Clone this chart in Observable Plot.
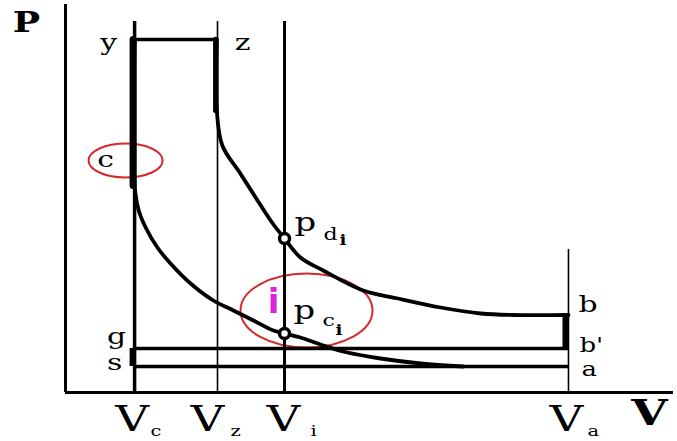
<!DOCTYPE html>
<html>
<head>
<meta charset="utf-8">
<script src="https://cdn.jsdelivr.net/npm/d3@7"></script>
<script src="https://cdn.jsdelivr.net/npm/@observablehq/plot@0.6"></script>
<style>
  body { margin: 0; background: #fff; }
  #chart svg { display: block; }
</style>
</head>
<body>
<div id="chart"></div>
<script>
// Characteristic volumes of the cycle (relative units): Vc, Vz, Vi, Va
const volumeNames = ["c", "z", "i", "a"];
const volumes = [1.0, 2.2, 3.17, 7.28];

// Named state points of the cycle: volume and pressure (relative units)
const pointNames = ["y", "z", "c", "b", "b'", "g", "s", "a"];
const pointV = [1.0, 2.2, 1.0, 7.28, 7.28, 1.0, 1.0, 7.28];
const pointP = [35.3, 35.3, 23.2, 7.75, 4.4, 4.4, 2.6, 2.6];

// Expansion line z -> b
const expansionV = [2.19, 2.19, 2.27, 2.53, 2.78, 3.00, 3.17, 3.40, 3.73, 4.31, 4.81, 5.43, 6.01, 6.48, 7.28];
const expansionP = [35.3, 28.2, 24.7, 21.9, 19.2, 16.9, 15.4, 13.5, 12.2, 10.2, 9.4, 8.5, 7.9, 7.75, 7.75];

// Compression line, listed from y down through c to a
const compressionV = [1.0, 1.0, 1.06, 1.16, 1.33, 1.52, 1.81, 2.14, 2.43, 2.72, 3.01, 3.17, 3.40, 3.73, 4.08, 4.56, 5.14, 5.76];
const compressionP = [35.3, 20.7, 18.2, 16.5, 14.5, 12.9, 10.9, 9.2, 8.2, 7.2, 6.2, 5.9, 5.5, 4.7, 4.0, 3.4, 2.9, 2.6];

// Pressures read at the intermediate volume Vi
const indicatorV = 3.17;
const pdi = 15.4;   // on the expansion line
const pci = 5.9;    // on the compression line

// Extents of the axes and of the volume ordinates
const vMax = 8.8, pMax = 38.8;
const ordinateTop = 37.1, ordinateTopVa = 14.3;

const pt = Object.fromEntries(pointNames.map((n, i) => [n, {V: pointV[i], P: pointP[i]}]));
const vol = Object.fromEntries(volumeNames.map((n, i) => [n, volumes[i]]));
const expansion = expansionV.map((V, i) => ({V, P: expansionP[i]}));
const compression = compressionV.map((V, i) => ({V, P: compressionP[i]}));

const serif = "DejaVu Serif";
const red = "#d42a2a";

// Outline ellipse drawn as a custom dot symbol (r gives the vertical radius)
function ellipseSymbol(aspect) {
  return {
    draw(context, size) {
      const ry = Math.sqrt(size / Math.PI), rx = ry * aspect, k = 0.5523;
      context.moveTo(rx, 0);
      context.bezierCurveTo(rx, k * ry, k * rx, ry, 0, ry);
      context.bezierCurveTo(-k * rx, ry, -rx, k * ry, -rx, 0);
      context.bezierCurveTo(-rx, -k * ry, -k * rx, -ry, 0, -ry);
      context.bezierCurveTo(k * rx, -ry, rx, -k * ry, rx, 0);
      context.closePath();
    }
  };
}

// Letter labels; the "wide" class gets a horizontal stretch after rendering
function label(text, V, P, dx, dy, opts = {}) {
  return Plot.text([{V, P}], {
    x: "V", y: "P", text: () => text, dx, dy,
    fontFamily: serif, fontSize: 23, fill: "black",
    textAnchor: "middle", lineAnchor: "middle", className: "wide", ...opts
  });
}

// Horizontal nudges of the V tick labels: [V glyph centre, subscript start]
const tickNudge = {c: [-2.5, 16], z: [-10, 13], i: [-1, 26], a: [-2, 19]};

const tickLabels = volumeNames.flatMap((n) => [
  label("V", vol[n], 0, tickNudge[n][0], 26.5, {fontSize: 36}),
  label(n, vol[n], 0, tickNudge[n][1], 38.5, {fontSize: 15, textAnchor: "start"})
]);

const chart = Plot.plot({
  width: 677,
  height: 441,
  marginLeft: 65,
  marginRight: 4,
  marginTop: 4,
  marginBottom: 49,
  x: {domain: [0, vMax], axis: null},
  y: {domain: [0, pMax], axis: null},
  marks: [
    // highlight ellipses around c and the i section
    Plot.dot([pt.c], {x: "V", y: "P", r: 17, symbol: ellipseSymbol(37 / 17), fill: "none", stroke: red, strokeWidth: 2, dx: -9}),
    Plot.dot([{V: indicatorV, P: pci}], {x: "V", y: "P", r: 37, symbol: ellipseSymbol(66 / 37), fill: "none", stroke: red, strokeWidth: 2, dx: 22, dy: -23}),

    // axes
    Plot.ruleX([0], {y1: 0, y2: pMax, strokeWidth: 3}),
    Plot.ruleY([0], {x1: 0, x2: vMax, strokeWidth: 3}),

    // volume ordinates
    Plot.ruleX([vol.c], {y1: 0, y2: ordinateTop, strokeWidth: 3.5}),
    Plot.ruleX([vol.z], {y1: 0, y2: ordinateTop, strokeWidth: 1.6}),
    Plot.ruleX([vol.i], {y1: 0, y2: ordinateTop, strokeWidth: 3}),
    Plot.ruleX([vol.a], {y1: 0, y2: ordinateTopVa, strokeWidth: 1.6}),

    // combustion at constant pressure y -> z
    Plot.ruleY([pt.y.P], {x1: pt.y.V, x2: pt.z.V, strokeWidth: 3.5}),
    // exhaust and intake lines g-b' and s-a
    Plot.ruleY([pt.g.P], {x1: pt.g.V, x2: pt["b'"].V, strokeWidth: 3.5}),
    Plot.ruleY([pt.s.P], {x1: pt.s.V, x2: pt.a.V, strokeWidth: 3.5}),
    // pressure drop b -> b' and the short g -> s step
    Plot.ruleX([pt.b.V], {y1: pt["b'"].P, y2: pt.b.P, strokeWidth: 6, dx: -3}),
    Plot.ruleX([pt.g.V], {y1: pt.s.P, y2: pt.g.P, strokeWidth: 6, dx: -2}),

    // expansion and compression lines
    Plot.line(expansion.slice(0, 2), {x: "V", y: "P", strokeWidth: 5.5, dx: -1}),
    Plot.line(expansion, {x: "V", y: "P", strokeWidth: 3.8, strokeLinejoin: "round", curve: "catmull-rom"}),
    Plot.line(compression.slice(0, 2), {x: "V", y: "P", strokeWidth: 7, dx: -1.5}),
    Plot.line(compression, {x: "V", y: "P", strokeWidth: 3.8, strokeLinejoin: "round", curve: "catmull-rom"}),

    // pressures at Vi
    Plot.dot([{V: indicatorV, P: pdi}, {V: indicatorV, P: pci}], {x: "V", y: "P", r: 5, fill: "white", stroke: "black", strokeWidth: 3.5}),

    // state point letters
    label("y", pt.y.V, pt.y.P, -26, 3.5),
    label("z", pt.z.V, pt.z.P, 25, 3.5),
    label("c", pt.c.V, pt.c.P, -29, -1),
    label("b", pt.b.V, pt.b.P, 10, -10, {textAnchor: "start"}),
    label("b'", pt["b'"].V, pt["b'"].P, 11, -2.5, {textAnchor: "start", fontSize: 20}),
    label("a", pt.a.V, pt.a.P, 13, 3.5, {textAnchor: "start", fontSize: 20}),
    label("g", pt.g.V, pt.g.P, -18, -12),
    label("s", pt.s.V, pt.s.P, -20, -3.5),

    // p with double subscripts at Vi
    label("p", indicatorV, pdi, 10, -16, {fontSize: 26, textAnchor: "start"}),
    label("d", indicatorV, pdi, 39, -3.5, {fontSize: 17, textAnchor: "start"}),
    label("i", indicatorV, pdi, 55, 2.5, {fontSize: 14, fontWeight: "bold", textAnchor: "start"}),
    label("p", indicatorV, pci, 9, -23, {fontSize: 26, textAnchor: "start"}),
    label("c", indicatorV, pci, 38, -12.5, {fontSize: 17, textAnchor: "start"}),
    label("i", indicatorV, pci, 51, -2.5, {fontSize: 14, fontWeight: "bold", textAnchor: "start"}),

    // section marker i
    label("i", indicatorV, pci, -11, -31, {fontFamily: "DejaVu Sans", fontWeight: "bold", fontSize: 34, fill: "#dd22dd", className: "plain"}),

    // volume tick labels
    ...tickLabels,

    // axis titles
    Plot.text(["P"], {frameAnchor: "top-left", text: (d) => d, dx: -39, dy: 19, textAnchor: "middle", lineAnchor: "middle",
      fontFamily: serif, fontWeight: "bold", fontSize: 28, className: "wide"}),
    Plot.text(["V"], {frameAnchor: "bottom-right", text: (d) => d, dx: -24, dy: 21, textAnchor: "middle", lineAnchor: "middle",
      fontFamily: serif, fontWeight: "bold", fontSize: 36, className: "wide"})
  ]
});

// The lettering is set in a broad face: stretch each glyph run about its anchor
chart.querySelectorAll(".wide text").forEach((t) => {
  const tr = t.getAttribute("transform") || "";
  t.setAttribute("transform", `${tr} scale(1.3,1)`);
});

document.getElementById("chart").append(chart);
</script>
</body>
</html>
